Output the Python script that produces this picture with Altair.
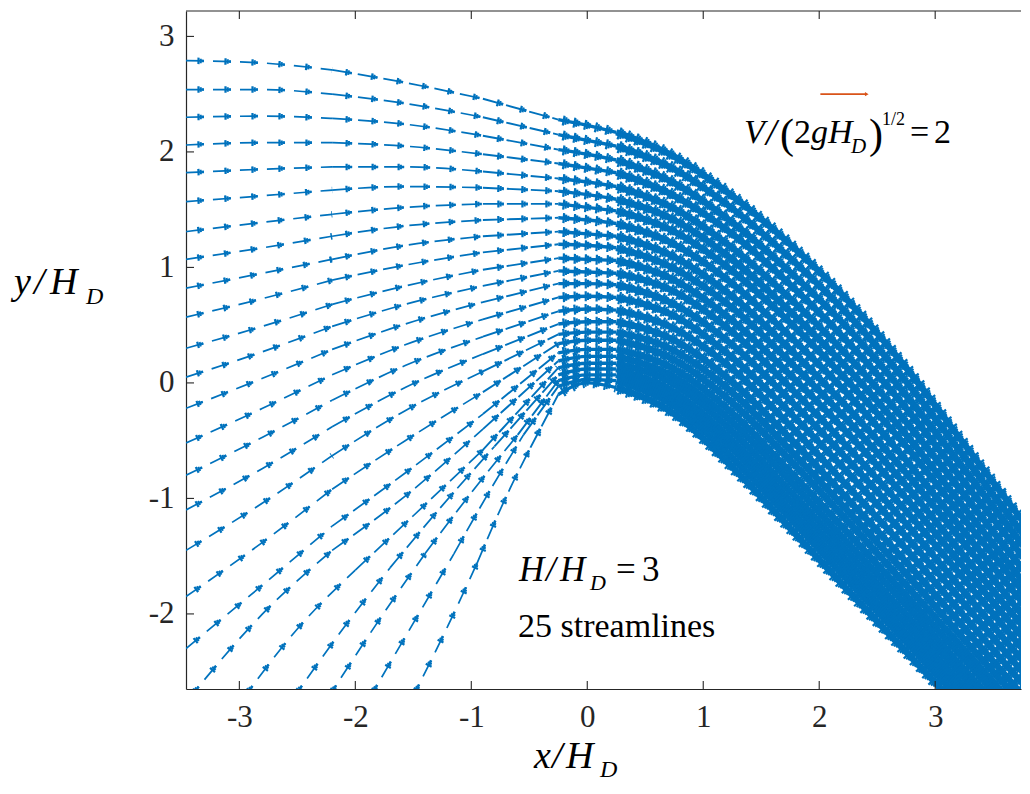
import altair as alt
import pandas as pd

BLUE = "#0072BD"
ORANGE = "#D95319"
AXIS = "#262626"
FONT = "Liberation Serif, DejaVu Serif, Times New Roman, serif"

# ---------------- data ----------------
TICK_X = [-3, -2, -1, 0, 1, 2, 3]
TICK_Y = [-2, -1, 0, 1, 2, 3]

# upstream part of streamlines 1-19 (entering through the left edge), y at these x
UP_X = [-3.46, -2.80, -2.20, -1.57, -0.90, -0.25]
y_up_01 = [2.79, 2.77, 2.71, 2.60, 2.46, 2.28]
y_up_02 = [2.54, 2.54, 2.50, 2.42, 2.30, 2.15]
y_up_03 = [2.30, 2.31, 2.29, 2.24, 2.14, 2.02]
y_up_04 = [2.06, 2.08, 2.08, 2.05, 1.98, 1.90]
y_up_05 = [1.82, 1.85, 1.87, 1.87, 1.83, 1.77]
y_up_06 = [1.57, 1.62, 1.67, 1.70, 1.69, 1.66]
y_up_07 = [1.31, 1.39, 1.46, 1.52, 1.55, 1.55]
y_up_08 = [1.07, 1.17, 1.27, 1.36, 1.41, 1.43]
y_up_09 = [0.82, 0.95, 1.07, 1.19, 1.27, 1.31]
y_up_10 = [0.57, 0.73, 0.89, 1.02, 1.13, 1.20]
y_up_11 = [0.30, 0.49, 0.68, 0.84, 0.98, 1.08]
y_up_12 = [0.05, 0.27, 0.49, 0.68, 0.84, 0.97]
y_up_13 = [-0.22, 0.04, 0.29, 0.51, 0.70, 0.86]
y_up_14 = [-0.52, -0.22, 0.07, 0.33, 0.55, 0.74]
y_up_15 = [-0.80, -0.47, -0.15, 0.15, 0.40, 0.62]
y_up_16 = [-1.10, -0.74, -0.38, -0.04, 0.25, 0.51]
y_up_17 = [-1.45, -1.04, -0.63, -0.24, 0.10, 0.42]
y_up_18 = [-1.85, -1.38, -0.92, -0.50, -0.08, 0.34]
y_up_19 = [-2.30, -1.75, -1.24, -0.78, -0.27, 0.26]

# upstream part of streamlines 20-25 (entering through the bottom edge)
x_up_20 = [-3.45, -2.80, -2.20, -1.57, -0.90, -0.25]
y_up_20 = [-2.75, -2.00, -1.45, -0.98, -0.40, 0.19]
x_up_21 = [-2.98, -2.50, -2.00, -1.50, -0.90, -0.25]
y_up_21 = [-2.75, -2.13, -1.62, -1.15, -0.58, 0.13]
x_up_22 = [-2.55, -2.10, -1.70, -1.30, -0.80, -0.25]
y_up_22 = [-2.75, -2.12, -1.60, -1.12, -0.55, 0.07]
x_up_23 = [-2.25, -1.80, -1.40, -1.00, -0.60, -0.25]
y_up_23 = [-2.75, -2.06, -1.48, -0.95, -0.45, 0.02]
x_up_24 = [-1.89, -1.50, -1.15, -0.85, -0.55, -0.25]
y_up_24 = [-2.75, -2.08, -1.48, -0.95, -0.45, -0.03]
x_up_25 = [-1.52, -1.20, -0.95, -0.72, -0.49, -0.25]
y_up_25 = [-2.75, -2.10, -1.56, -1.03, -0.56, -0.10]

# downstream part (over the crest and down the spillway), y at these x
DOWN_X = [-0.25, 0.00, 0.25, 0.75, 1.25, 1.75, 2.25, 2.75, 3.25, 3.75, 4.00]
y_dn_01 = [2.28, 2.23, 2.17, 1.96, 1.62, 1.20, 0.71, 0.13, -0.53, -1.19, -1.52]
y_dn_02 = [2.15, 2.10, 2.05, 1.85, 1.51, 1.08, 0.59, 0.01, -0.64, -1.30, -1.63]
y_dn_03 = [2.02, 1.98, 1.93, 1.73, 1.39, 0.96, 0.47, -0.11, -0.75, -1.40, -1.73]
y_dn_04 = [1.90, 1.86, 1.82, 1.62, 1.29, 0.85, 0.35, -0.22, -0.86, -1.50, -1.83]
y_dn_05 = [1.77, 1.74, 1.70, 1.51, 1.17, 0.73, 0.23, -0.34, -0.97, -1.61, -1.93]
y_dn_06 = [1.66, 1.63, 1.59, 1.41, 1.07, 0.62, 0.12, -0.45, -1.08, -1.71, -2.03]
y_dn_07 = [1.55, 1.52, 1.49, 1.31, 0.97, 0.52, 0.01, -0.55, -1.18, -1.80, -2.12]
y_dn_08 = [1.43, 1.41, 1.38, 1.20, 0.86, 0.40, -0.10, -0.67, -1.29, -1.90, -2.22]
y_dn_09 = [1.31, 1.29, 1.27, 1.09, 0.75, 0.29, -0.22, -0.78, -1.39, -2.01, -2.33]
y_dn_10 = [1.20, 1.19, 1.17, 0.99, 0.65, 0.18, -0.33, -0.89, -1.50, -2.10, -2.40]
y_dn_11 = [1.08, 1.07, 1.06, 0.89, 0.54, 0.07, -0.44, -1.00, -1.60, -2.20, -2.50]
y_dn_12 = [0.97, 0.96, 0.95, 0.79, 0.44, -0.04, -0.56, -1.11, -1.70, -2.30, -2.60]
y_dn_13 = [0.86, 0.86, 0.85, 0.68, 0.33, -0.15, -0.67, -1.22, -1.81, -2.40, -2.70]
y_dn_14 = [0.74, 0.75, 0.74, 0.58, 0.22, -0.26, -0.78, -1.33, -1.91, -2.50, -2.80]
y_dn_15 = [0.62, 0.64, 0.63, 0.47, 0.12, -0.37, -0.90, -1.44, -2.02, -2.60, -2.89]
y_dn_16 = [0.51, 0.53, 0.53, 0.37, 0.01, -0.48, -1.01, -1.55, -2.12, -2.70, -2.99]
y_dn_17 = [0.42, 0.44, 0.44, 0.28, -0.08, -0.58, -1.11, -1.65, -2.22, -2.78, -3.07]
y_dn_18 = [0.34, 0.37, 0.37, 0.20, -0.17, -0.67, -1.20, -1.75, -2.31, -2.87, -3.16]
y_dn_19 = [0.26, 0.29, 0.29, 0.12, -0.26, -0.77, -1.30, -1.84, -2.39, -2.95, -3.24]
y_dn_20 = [0.19, 0.23, 0.23, 0.05, -0.34, -0.85, -1.39, -1.92, -2.48, -3.03, -3.30]
y_dn_21 = [0.13, 0.17, 0.17, -0.01, -0.42, -0.94, -1.47, -2.01, -2.55, -3.10, -3.37]
y_dn_22 = [0.07, 0.12, 0.12, -0.08, -0.50, -1.02, -1.55, -2.09, -2.63, -3.17, -3.44]
y_dn_23 = [0.02, 0.07, 0.07, -0.14, -0.57, -1.10, -1.63, -2.17, -2.70, -3.24, -3.51]
y_dn_24 = [-0.03, 0.03, 0.02, -0.20, -0.65, -1.17, -1.71, -2.24, -2.78, -3.31, -3.58]
y_dn_25 = [-0.10, 0.00, -0.04, -0.27, -0.73, -1.26, -1.80, -2.33, -2.86, -3.39, -3.66]

# reference arrow V/(2gH_D)^(1/2) = 2
REF_V = 2.0
REF_X0 = 2.01
REF_Y = 2.50
V_SCALE = 0.20  # x/H_D units per unit of V/(2gH_D)^(1/2)

# ---------------- build tables ----------------
UP_Y = [y_up_01, y_up_02, y_up_03, y_up_04, y_up_05, y_up_06, y_up_07, y_up_08,
        y_up_09, y_up_10, y_up_11, y_up_12, y_up_13, y_up_14, y_up_15, y_up_16,
        y_up_17, y_up_18, y_up_19]
UP_BOTTOM = [(x_up_20, y_up_20), (x_up_21, y_up_21), (x_up_22, y_up_22),
             (x_up_23, y_up_23), (x_up_24, y_up_24), (x_up_25, y_up_25)]
DN_Y = [y_dn_01, y_dn_02, y_dn_03, y_dn_04, y_dn_05, y_dn_06, y_dn_07, y_dn_08,
        y_dn_09, y_dn_10, y_dn_11, y_dn_12, y_dn_13, y_dn_14, y_dn_15, y_dn_16,
        y_dn_17, y_dn_18, y_dn_19, y_dn_20, y_dn_21, y_dn_22, y_dn_23, y_dn_24,
        y_dn_25]

upstream = [(UP_X, ys) for ys in UP_Y] + UP_BOTTOM

rows = []


def add(sid, xs, ys, seg):
    for j, (x, y) in enumerate(zip(xs, ys)):
        rows.append({"sid": sid, "seg": seg, "i": j, "x": x, "y": y})


for k, (xs, ys) in enumerate(upstream):
    add(k, xs[0:3], ys[0:3], "far")
    add(k, xs[2:5], ys[2:5], "mid")
    add(k, xs[4:6], ys[4:6], "near")
    add(k, DOWN_X[0:3], DN_Y[k][0:3], "crest")
    add(k, DOWN_X[2:], DN_Y[k][2:], "chute")

df = pd.DataFrame(rows)

PW, PH = 835, 678
SX = alt.Scale(domain=[-3.46, 3.74], nice=False, zero=False)
SY = alt.Scale(domain=[-2.65, 3.22], nice=False, zero=False)
AX_X = alt.Axis(values=TICK_X, title=None, ticks=False, grid=False, labelFont=FONT,
                labelFontSize=31, labelColor=AXIS, domainColor=AXIS, domainWidth=1.2,
                labelPadding=13, labelExpr="toString(datum.value)")
AX_Y = alt.Axis(values=TICK_Y, title=None, ticks=False, grid=False, labelFont=FONT,
                labelFontSize=31, labelColor=AXIS, domainColor=AXIS, domainWidth=1.2,
                labelPadding=12, labelExpr="toString(datum.value)")


def X(field):
    return alt.X(field, scale=SX, axis=AX_X)


def Y(field):
    return alt.Y(field, scale=SY, axis=AX_Y)


def line_layer(seg, width, dash=None, offset=None):
    kw = dict(color=BLUE, strokeWidth=width, interpolate="monotone", clip=True,
              strokeCap="butt")
    if dash:
        kw["strokeDash"] = dash
    if offset:
        kw["strokeDashOffset"] = offset
    return alt.Chart(df).transform_filter(alt.datum.seg == seg).mark_line(**kw).encode(
        x=X("x:Q"), y=Y("y:Q"), detail="sid:N", order="i:Q")


def arrow_layers(seg, period, shaft, shaft_w=1.5, heads=(6.0, 4.2, 2.4)):
    """shaft drawn as a dash, head as three shorter, wider dashes at its end"""
    out = [line_layer(seg, shaft_w, [shaft, period - shaft] if shaft < period else None)]
    hl = 2.2
    for n, w in enumerate(heads):
        start = shaft - hl * (len(heads) - n)
        out.append(line_layer(seg, w, [hl, period - hl], (period - start) % period))
    return out


layers = []
layers += arrow_layers("far", 27, 18, 1.7, (6.5, 4.5, 2.6))
layers += arrow_layers("mid", 26, 20, 1.7, (6.5, 4.5, 2.6))
layers += arrow_layers("near", 24, 21, 1.9, (7.0, 5.0, 3.0))
layers += arrow_layers("crest", 11, 11, 3.4, (10.0, 7.5, 5.5))
layers += arrow_layers("chute", 9, 9, 6.5, (12.5, 10.0, 8.0))

# reference arrow
ref_df = pd.DataFrame({"x0": [REF_X0], "x1": [REF_X0 + REF_V * V_SCALE], "y": [REF_Y]})
layers.append(alt.Chart(ref_df).mark_rule(color=ORANGE, strokeWidth=1.6).encode(
    x=X("x0:Q"), x2="x1:Q", y=Y("y:Q")))
layers.append(alt.Chart(ref_df).mark_point(shape="triangle-right", filled=True, size=18,
                                           color=ORANGE, opacity=1).encode(
    x=X("x1:Q"), y=Y("y:Q")))

# inward ticks and the top frame line
tx = pd.DataFrame({"t": TICK_X})
ty = pd.DataFrame({"t": TICK_Y})
layers.append(alt.Chart(tx).mark_rule(color=AXIS, strokeWidth=1.1).encode(
    x=X("t:Q"), y=alt.value(PH), y2=alt.value(PH - 8)))
layers.append(alt.Chart(tx).mark_rule(color=AXIS, strokeWidth=1.1).encode(
    x=X("t:Q"), y=alt.value(0), y2=alt.value(8)))
layers.append(alt.Chart(ty).mark_rule(color=AXIS, strokeWidth=1.1).encode(
    y=Y("t:Q"), x=alt.value(0), x2=alt.value(8)))
layers.append(alt.Chart(pd.DataFrame({"a": [0]})).mark_rule(color=AXIS, strokeWidth=1.2).encode(
    x=alt.value(0), x2=alt.value(PW), y=alt.value(0)))

# texts (pieces, to mimic sub/superscripts)
one = pd.DataFrame({"a": [0]})


def txt(s, x, y, size, italic=False):
    return alt.Chart(one).mark_text(text=s, font=FONT, fontSize=size,
                                    fontStyle="italic" if italic else "normal",
                                    align="left", baseline="alphabetic",
                                    color="black").encode(x=alt.value(x), y=alt.value(y))


texts = [
    # y/H_D
    txt("y", -172, 283, 38, True), txt("/", -152, 283, 38, True),
    txt("H", -136, 283, 38, True), txt("D", -100, 293, 24, True),
    # x/H_D
    txt("x", 348, 757, 38, True), txt("/", 366, 757, 38, True),
    txt("H", 380, 757, 38, True), txt("D", 414, 766, 24, True),
    # H/H_D = 3
    txt("H", 333, 570, 35, True), txt("/", 360, 570, 35, True),
    txt("H", 374, 570, 35, True), txt("D", 404, 579, 22, True),
    txt("=", 430, 570, 35), txt("3", 456, 570, 35),
    # 25 streamlines
    txt("25 streamlines", 332, 626, 34),
    # V/(2gH_D)^(1/2) = 2
    txt("V", 558, 132, 34, True), txt("/", 580, 134, 38, True),
    txt("(", 594, 137, 42), txt("2", 608, 132, 34), txt("g", 625, 132, 34, True),
    txt("H", 642, 132, 34, True), txt("D", 665, 142, 21, True),
    txt(")", 683, 137, 42), txt("1/2", 696, 114, 18),
    txt("=", 724, 132, 34), txt("2", 748, 132, 34),
]
layers += texts

chart = alt.layer(*layers).properties(
    width=PW, height=PH,
    padding={"left": 178, "top": 3, "right": 1, "bottom": 95},
    autosize=alt.AutoSizeParams(type="none"),
).configure_view(stroke=None)

chart.save("out.html", embed_options={"renderer": "svg", "actions": False})
